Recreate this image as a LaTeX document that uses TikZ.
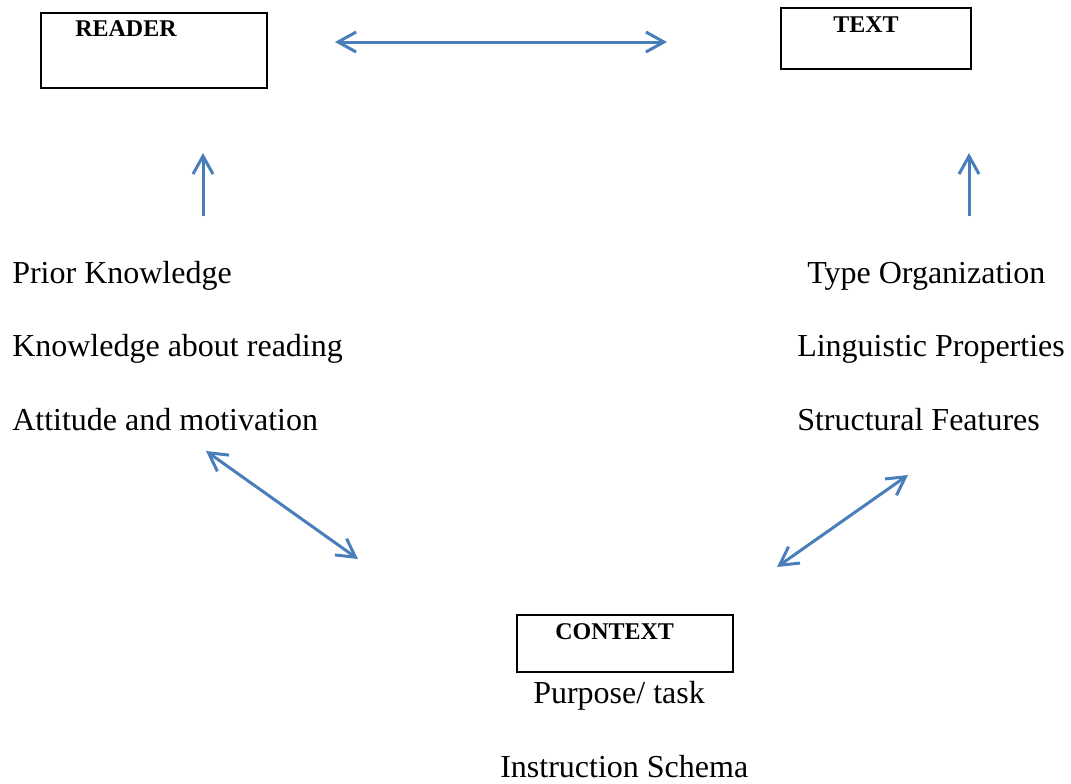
\documentclass[tikz,border=0pt]{standalone}
\usepackage{fontspec}
\setmainfont{Liberation Serif}
\usepackage{xcolor}
\usetikzlibrary{positioning,arrows.meta}
\definecolor{arrowblue}{RGB}{74,126,187}

\begin{document}
\begin{tikzpicture}[x=0.75pt,y=-0.75pt,
    box/.style={draw,line width=1.75pt,inner sep=0pt,outer sep=0pt,anchor=north west},
    boxlabel/.style={anchor=base west,inner sep=0pt,font=\fontsize{18}{20}\selectfont\bfseries},
    item/.style={anchor=base west,inner sep=0pt,font=\fontsize{24}{28}\selectfont},
    link/.style={arrowblue,line width=2.25pt,{Straight Barb[length=13.5pt,width=15pt]}-{Straight Barb[length=13.5pt,width=15pt]}},
    up/.style={arrowblue,line width=2.25pt,-{Straight Barb[length=13.5pt,width=15pt]}}]
    \useasboundingbox (0,0) rectangle (1071,783);

    % boxes
    \node[box,minimum width=169.5pt,minimum height=56.25pt] (reader) at (41,13) {};
    \node[boxlabel] (readerlbl) at (75,36) {READER};
    \node[box,minimum width=142.5pt,minimum height=45.75pt] (text) at (781,8) {};
    \node[boxlabel] (textlbl) at (833,32) {TEXT};
    \node[box,minimum width=162pt,minimum height=42.75pt] (context) at (517,615) {};
    \node[boxlabel] (contextlbl) at (555,639) {CONTEXT};

    % reader factors
    \node[item] (prior) at (12,283) {Prior Knowledge};
    \node[item] (aboutread) at (12,356) {Knowledge about reading};
    \node[item] (attitude) at (12,430) {Attitude and motivation};

    % text factors
    \node[item] (typeorg) at (807,283) {Type Organization};
    \node[item] (ling) at (797,356) {Linguistic Properties};
    \node[item] (struct) at (797,430) {Structural Features};

    % context factors
    \node[item] (purpose) at (533,703) {Purpose/ task};
    \node[item] (schema) at (500,777) {Instruction Schema};

    % arrow ends
    \coordinate (rt) at (335,42);
    \coordinate (tr) at (667,42);
    \coordinate (pk) at (203,216);
    \coordinate (rb) at (203,153);
    \coordinate (to) at (969,216);
    \coordinate (tb) at (969,153);
    \coordinate (am) at (206,451);
    \coordinate (cl) at (358,559);
    \coordinate (sf) at (908,475);
    \coordinate (cr) at (777,567);

    \draw[link] (rt) -- (tr);
    \draw[up] (pk) -- (rb);
    \draw[up] (to) -- (tb);
    \draw[link] (am) -- (cl);
    \draw[link] (sf) -- (cr);
\end{tikzpicture}
\end{document}
